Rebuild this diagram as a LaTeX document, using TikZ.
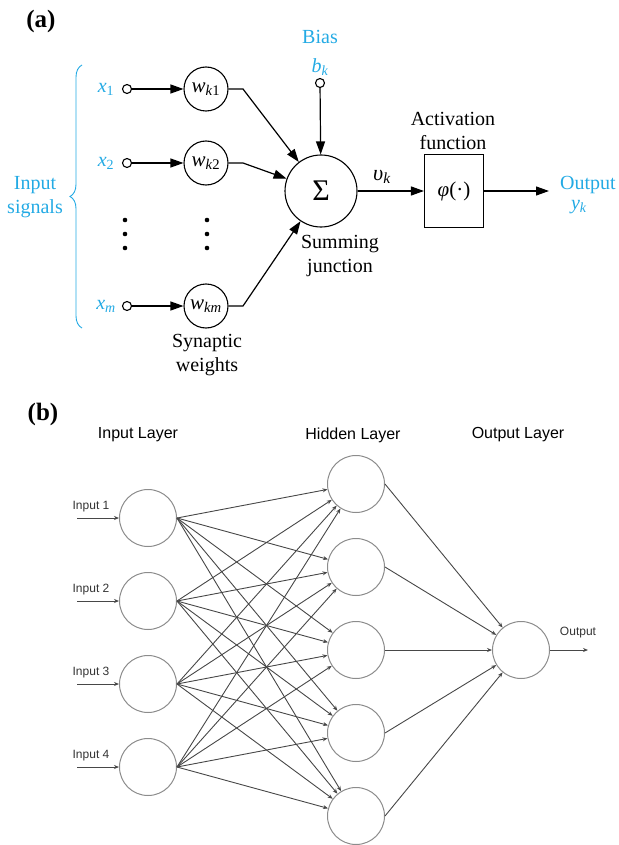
\documentclass[tikz,border=0pt]{standalone}
\usepackage{fontspec}
\setmainfont{Liberation Serif}
\setsansfont{Liberation Sans}
\usetikzlibrary{arrows.meta,decorations.pathreplacing}
\definecolor{sigblue}{RGB}{35,170,228}
\newcommand{\vsub}[2]{\textit{#1}\textsubscript{#2}}
\begin{document}
\begin{tikzpicture}
  [x=1pt,y=-1pt,every node/.style={inner sep=0pt}]
  \tikzstyle{lbl} = [font=\fontsize{20}{23.5}\selectfont,align=center]
  \tikzstyle{sig} = [lbl,text=sigblue]
  \tikzstyle{tap} = [circle,draw,line width=1.1pt,minimum size=9pt]
  \tikzstyle{weight} = [circle,draw,line width=1.1pt,minimum size=44pt,font=\fontsize{21}{23}\selectfont]
  \tikzstyle{flow} = [line width=1.2pt,-{Triangle[length=13pt,width=9pt]}]
  \tikzstyle{neuron} = [circle,draw=black!45,line width=1pt,minimum size=57pt]
  \tikzstyle{synapse} = [draw=black!72,line width=0.9pt,-{Stealth[length=5pt,width=4pt]}]
  \tikzstyle{layer} = [font=\sffamily\fontsize{16}{19}\selectfont]
  \tikzstyle{small} = [font=\sffamily\fontsize{12}{14}\selectfont,text=black!80]
  \tikzstyle{panel} = [font=\bfseries\fontsize{25}{28}\selectfont]
  \useasboundingbox (0,0) rectangle (618,845);

  \node[panel] (pa) at (41,21) {(a)};
  \node[sig] (bias) at (320,37) {Bias};
  \node[sig] (bk) at (320,67) {\vsub{b}{\textit{k}}};
  \node[tap] (tb) at (320,83) {};
  \node[circle,draw,line width=1.1pt,minimum size=72pt,font=\fontsize{30}{32}\selectfont] (sum) at (321,191) {Σ};
  \node[lbl] (sj) at (340,256) {Summing\\junction};
  \draw[flow] (tb) -- (sum);

  \node[sig] (insig) at (35,197) {Input\\signals};
  \draw[sigblue,line width=0.9pt,decorate,decoration={brace,amplitude=12pt}] (82,328) -- (82,65);
\foreach \name/\y/\xs/\ws in {1/89/1/{\textit{k}1},2/163/2/{\textit{k}2},m/306/{\textit{m}}/{\textit{km}}} {
    \node[sig] (x\name) at (106,\y) {\vsub{x}{\xs}};
    \node[tap] (t\name) at (127,\y) {};
    \node[weight] (w\name) at (206,\y) {\vsub{w}{\ws}};
    \coordinate (c\name) at (243,\y);
    \draw[flow] (t\name) -- (w\name);
    \draw[flow] (w\name) -- (c\name) -- (sum);
}
\foreach \dx in {125,207}
  \foreach \dy in {220,234,248}
    \fill (\dx,\dy) circle (2.3pt);
  \node[lbl] (sw) at (207,355) {Synaptic\\weights};

  \node[lbl,font=\fontsize{22}{24}\selectfont] (vk) at (382,177) {\vsub{υ}{\textit{k}}};
  \node[lbl] (act) at (453,131) {Activation\\function};
  \node[draw,line width=1.1pt,minimum width=59pt,minimum height=73pt,font=\fontsize{21}{23}\selectfont] (phi) at (454,191) {\textit{φ}(·)};
  \coordinate (yout) at (549,191);
  \node[sig] (out) at (588,185) {Output};
  \node[sig] (yk) at (579,207) {\vsub{y}{\textit{k}}};
  \draw[flow] (sum) -- (phi);
  \draw[flow] (phi) -- (yout);

  \node[panel] (pb) at (43,414) {(b)};
  \node[layer] (lin) at (138,435) {Input Layer};
  \node[layer] (lhid) at (353,435) {Hidden Layer};
  \node[layer] (lout) at (518,435) {Output Layer};
\foreach \i/\y in {1/518,2/601,3/684,4/767} {
    \node[neuron] (i\i) at (148,\y) {};
    \node[small] (n\i) at (91,\y-11) {Input \i};
    \coordinate (s\i) at (77,\y);
    \draw[synapse] (s\i) -- (i\i);
}
\foreach \j/\y in {1/484,2/567,3/650,4/733,5/816}
    \node[neuron] (h\j) at (356,\y) {};
  \node[neuron] (o) at (521,650) {};
\foreach \i in {1,...,4}
  \foreach \j in {1,...,5}
    \draw[synapse] (i\i.east) -- (h\j);
\foreach \j in {1,...,5}
    \draw[synapse] (h\j.east) -- (o);
  \node[small] (nout) at (578,633) {Output};
  \coordinate (sout) at (588,650);
  \draw[synapse] (o) -- (sout);

\end{tikzpicture}
\end{document}
